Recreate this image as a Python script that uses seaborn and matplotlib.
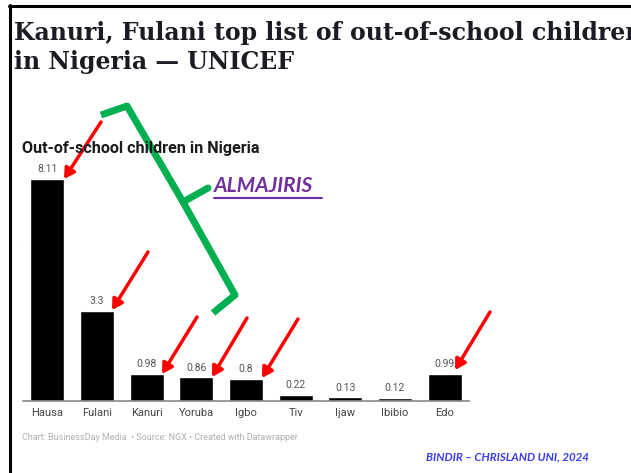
import matplotlib
matplotlib.use("Agg")
import matplotlib.pyplot as plt
import seaborn as sns
import pandas as pd
from matplotlib.lines import Line2D

# data (millions of out-of-school children)
groups = ["Hausa", "Fulani", "Kanuri", "Yoruba", "Igbo", "Tiv", "Ijaw", "Ibibio", "Edo"]
values = [8.11, 3.3, 0.98, 0.86, 0.8, 0.22, 0.13, 0.12, 0.99]
value_labels = ["8.11", "3.3", "0.98", "0.86", "0.8", "0.22", "0.13", "0.12", "0.99"]

# red arrows drawn on the slide: (tail, head) in pixels from top-left
arrows = [((101, 122), (64, 179)),
          ((148, 252), (112, 310)),
          ((197, 317), (162, 374)),
          ((247, 318), (212, 377)),
          ((298, 319), (262, 378)),
          ((490, 312), (455, 370))]

# green bracket pointing at "ALMAJIRIS"
bracket = [(101, 115), (127, 106), (183, 202), (235, 295), (213, 313)]
bracket_notch = [(183, 202), (208, 188)]

W, H = 631, 473

df = pd.DataFrame({"group": groups, "value": values})

sns.set_theme(style="white")
plt.rcParams["font.family"] = ["Roboto", "DejaVu Sans"]

fig = plt.figure(figsize=(6.31, 4.73), dpi=100)
fig.patch.set_facecolor("white")


def fx(px):
    return px / W


def fy(py):
    return 1 - py / H


# chart axes
ax = fig.add_axes([fx(23), fy(401), fx(469) - fx(23), fy(155) - fy(401)])
sns.barplot(data=df, x="group", y="value", color="black", width=0.68,
            saturation=1, ax=ax)
ax.set_xlim(-0.49, 8.49)
ax.set_ylim(0, 9)
ax.set_xlabel("")
ax.set_ylabel("")
ax.set_yticks([])
for s in ["top", "right", "left"]:
    ax.spines[s].set_visible(False)
ax.spines["bottom"].set_color("#888888")
ax.spines["bottom"].set_linewidth(1.2)
ax.tick_params(axis="x", length=0, pad=5, labelsize=8, labelcolor="#444444")
ax.set_facecolor("none")
ax.bar_label(ax.containers[0], labels=value_labels, padding=3.5,
             fontsize=7.5, color="#555555")

# slide border
fig.add_artist(Line2D([fx(10), fx(10)], [fy(5), fy(473)], color="black", lw=2.2))
fig.add_artist(Line2D([fx(9), 1], [fy(6), fy(6)], color="black", lw=2.2))

# slide title (runs off the right edge, as on the slide)
fig.text(fx(14), fy(40), "Kanuri, Fulani top list of out-of-school children",
         family="DejaVu Serif", weight="bold", fontsize=17, color="#1b1b24",
         va="baseline")
fig.text(fx(14), fy(69), "in Nigeria \u2014 UNICEF",
         family="DejaVu Serif", weight="bold", fontsize=17, color="#1b1b24",
         va="baseline")

# chart title and source
fig.text(fx(22), fy(148), "Out-of-school children in Nigeria", weight="bold",
         fontsize=11.6, color="#1a1a1a", va="center")
fig.text(fx(22), fy(437),
         "Chart: BusinessDay Media  \u2022 Source: NGX \u2022 Created with Datawrapper",
         fontsize=6.5, color="#b0b0b0", va="center")

# green bracket
xs, ys = zip(*bracket)
fig.add_artist(Line2D([fx(x) for x in xs], [fy(y) for y in ys], color="#00b050",
                      lw=5, solid_joinstyle="round", solid_capstyle="butt"))
xs, ys = zip(*bracket_notch)
fig.add_artist(Line2D([fx(x) for x in xs], [fy(y) for y in ys], color="#00b050",
                      lw=5, solid_capstyle="round"))

# ALMAJIRIS label, underlined
fig.text(fx(214), fy(186), "ALMAJIRIS", family="Lato", weight="bold",
         style="italic", fontsize=15, color="#7030a0", va="center")
fig.add_artist(Line2D([fx(214), fx(322)], [fy(198), fy(198)], color="#7030a0", lw=1.5))

# red arrows
for (tx, ty), (hx, hy) in arrows:
    fig.add_artist(matplotlib.patches.FancyArrowPatch(
        (fx(tx), fy(ty)), (fx(hx), fy(hy)), transform=fig.transFigure,
        arrowstyle="-|>,head_length=6,head_width=3.5", color="#ff0000", lw=2.5,
        shrinkA=0, shrinkB=0))

# footer credit
fig.text(fx(589), fy(457), "BINDIR \u2013 CHRISLAND UNI, 2024", family="Lato",
         weight="bold", style="italic", fontsize=8.3, color="#3b3bf0",
         ha="right", va="center")

fig.savefig("out.png", dpi=100)
